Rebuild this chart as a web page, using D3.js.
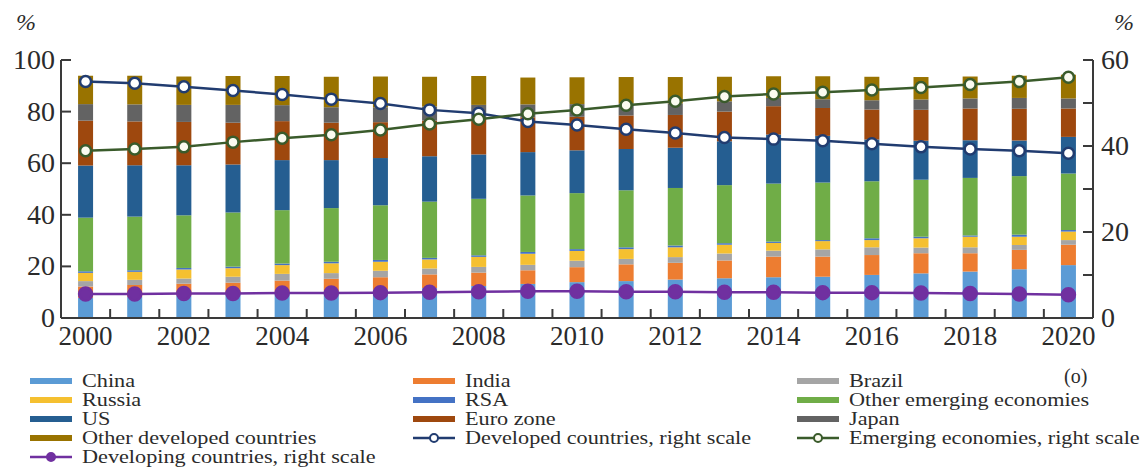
<!DOCTYPE html>
<html>
<head>
<meta charset="utf-8">
<script src="https://cdn.jsdelivr.net/npm/d3@7"></script>
<style>
  body { margin: 0; background: #fff; }
  svg text { font-family: "Liberation Serif", "DejaVu Serif", serif; fill: #2b2b2b; }
</style>
</head>
<body>
<svg id="chart" width="1143" height="470"></svg>
<script>
// years on the x axis
var years = d3.range(2000, 2021)

// shares in world GDP, % (stacked bars, left scale)
var china      = [7.8, 8.2, 8.7, 9.2, 9.8, 10.4, 11.0, 11.6, 12.4, 13.2, 13.9, 14.3, 14.9, 15.4, 15.8, 16.0, 16.7, 17.3, 18.0, 18.9, 20.5]
var india      = [4.4, 4.6, 4.6, 4.5, 4.7, 4.8, 4.8, 5.3, 5.2, 5.3, 5.8, 6.5, 6.5, 6.9, 8.0, 7.8, 7.7, 7.8, 7.1, 7.5, 7.9]
var brazil     = [2.1, 2.0, 2.0, 2.3, 2.6, 2.2, 2.5, 2.3, 2.2, 2.1, 2.5, 2.1, 2.2, 2.7, 2.3, 2.8, 3.0, 2.2, 2.3, 1.9, 1.8]
var russia     = [3.2, 3.1, 3.5, 3.3, 3.4, 3.8, 3.5, 3.5, 3.9, 4.3, 3.8, 3.8, 3.8, 3.4, 3.0, 3.2, 2.8, 3.6, 4.1, 3.2, 3.3]
var rsa        = [0.6, 0.6, 0.6, 0.6, 0.6, 0.6, 0.7, 0.6, 0.6, 0.7, 0.7, 0.7, 0.7, 0.6, 0.5, 0.4, 0.7, 0.6, 0.5, 0.8, 0.6]
var otherEm    = [20.8, 20.8, 20.4, 21.0, 20.7, 20.8, 21.2, 21.8, 21.9, 21.9, 21.7, 22.1, 22.3, 22.5, 22.5, 22.3, 22.1, 22.1, 22.3, 22.7, 21.9]
var us         = [20.2, 19.9, 19.4, 18.6, 19.4, 18.6, 18.3, 17.6, 17.2, 16.8, 16.6, 16.0, 15.6, 17.0, 19.0, 18.1, 16.2, 15.1, 14.6, 13.8, 14.2]
var euroZone   = [17.4, 17.0, 16.8, 16.2, 15.1, 14.5, 13.9, 13.8, 14.0, 13.5, 13.0, 13.0, 12.7, 11.5, 11.0, 10.8, 11.6, 12.0, 12.3, 12.3, 11.0]
var japan      = [6.4, 6.6, 6.6, 6.9, 6.2, 6.0, 5.8, 5.5, 5.2, 5.0, 4.9, 4.6, 4.5, 4.0, 3.2, 3.4, 3.6, 4.0, 3.9, 4.2, 3.9]
var otherDev   = [11.0, 11.1, 11.0, 11.2, 11.3, 11.8, 11.9, 11.5, 11.2, 10.4, 10.4, 10.3, 10.2, 9.5, 8.4, 8.9, 9.1, 8.7, 8.5, 8.6, 9.2]

// group shares, % (lines, right scale)
var developed  = [55.0, 54.6, 53.8, 52.9, 52.0, 50.9, 49.9, 48.4, 47.6, 45.7, 44.9, 43.9, 43.0, 42.0, 41.6, 41.2, 40.5, 39.8, 39.3, 38.9, 38.3]
var emerging   = [38.9, 39.3, 39.8, 40.9, 41.8, 42.6, 43.7, 45.1, 46.2, 47.5, 48.4, 49.5, 50.4, 51.5, 52.1, 52.5, 53.0, 53.6, 54.3, 55.0, 56.0]
var developing = [5.6, 5.6, 5.7, 5.7, 5.8, 5.8, 5.9, 6.0, 6.1, 6.2, 6.2, 6.1, 6.1, 6.0, 6.0, 5.9, 5.9, 5.8, 5.7, 5.6, 5.4]

var leftTicks = [0, 20, 40, 60, 80, 100]
var rightTicks = [0, 10, 20, 30, 40, 50, 60]
var rightLabels = [0, 20, 40, 60]

var barSeries = [
  {key: 'China', values: china, color: '#5b9bd5'},
  {key: 'India', values: india, color: '#ed7d31'},
  {key: 'Brazil', values: brazil, color: '#a5a5a5'},
  {key: 'Russia', values: russia, color: '#f5c030'},
  {key: 'RSA', values: rsa, color: '#4472c4'},
  {key: 'Other emerging economies', values: otherEm, color: '#70ad47'},
  {key: 'US', values: us, color: '#255e91'},
  {key: 'Euro zone', values: euroZone, color: '#9e480e'},
  {key: 'Japan', values: japan, color: '#636363'},
  {key: 'Other developed countries', values: otherDev, color: '#997300'}
]
var lineSeries = [
  {key: 'Developed countries, right scale', values: developed, color: '#213c70', fill: '#fff', r: 5.5},
  {key: 'Emerging economies, right scale', values: emerging, color: '#3a5b2b', fill: '#fbfbf0', r: 5.5},
  {key: 'Developing countries, right scale', values: developing, color: '#7030a0', fill: '#7030a0', r: 6.5}
]

var svg = d3.select('#chart')
// plot box ("top" is taken by window, so keep these prefixed)
var plotLeft = 61, plotRight = 1093, plotTop = 60, plotBottom = 318
var axisColor = '#3a3a3a'

var x = d3.scaleBand().domain(years).range([plotLeft, plotRight])
var yL = d3.scaleLinear().domain([0, 100]).range([plotBottom, plotTop])
var yR = d3.scaleLinear().domain([0, 60]).range([plotBottom, plotTop])
var barWidth = 15
var cx = function(yr) { return x(yr) + x.bandwidth() / 2 }

// stack the bars
var rows = years.map(function(yr, i) {
  var r = {year: yr}
  barSeries.forEach(function(s) { r[s.key] = s.values[i] })
  return r
})
var stacked = d3.stack().keys(barSeries.map(function(s) { return s.key }))(rows)

svg.append('g').selectAll('g')
  .data(stacked)
  .enter().append('g')
    .attr('fill', function(d, i) { return barSeries[i].color })
  .selectAll('rect')
  .data(function(d) { return d })
  .enter().append('rect')
    .attr('x', function(d) { return cx(d.data.year) - barWidth / 2 })
    .attr('width', barWidth)
    .attr('y', function(d) { return yL(d[1]) })
    .attr('height', function(d) { return yL(d[0]) - yL(d[1]) })

// axes
var axes = svg.append('g').attr('stroke', axisColor).attr('stroke-width', 2)
axes.append('line').attr('x1', plotLeft).attr('x2', plotLeft).attr('y1', plotTop).attr('y2', plotBottom)
axes.append('line').attr('x1', plotRight).attr('x2', plotRight).attr('y1', plotTop).attr('y2', plotBottom)
axes.append('line').attr('x1', plotLeft).attr('x2', plotRight).attr('y1', plotBottom).attr('y2', plotBottom)
axes.selectAll('.lt').data(leftTicks).enter().append('line')
  .attr('x1', plotLeft).attr('x2', plotLeft + 10)
  .attr('y1', function(d) { return yL(d) }).attr('y2', function(d) { return yL(d) })
axes.selectAll('.rt').data(rightTicks).enter().append('line')
  .attr('x1', plotRight - 10).attr('x2', plotRight)
  .attr('y1', function(d) { return yR(d) }).attr('y2', function(d) { return yR(d) })
// x ticks sit between the years
axes.selectAll('.xt').data(years.slice(1)).enter().append('line')
  .attr('x1', function(d) { return x(d) }).attr('x2', function(d) { return x(d) })
  .attr('y1', plotBottom).attr('y2', plotBottom - 9)

svg.selectAll('.ll').data(leftTicks).enter().append('text')
  .attr('x', plotLeft - 6).attr('y', function(d) { return yL(d) + 9 })
  .attr('text-anchor', 'end').style('font-size', '28px')
  .text(function(d) { return d })
svg.selectAll('.rl').data(rightLabels).enter().append('text')
  .attr('x', plotRight + 8).attr('y', function(d) { return yR(d) + 9 })
  .style('font-size', '28px')
  .text(function(d) { return d })
svg.selectAll('.xl').data(years.filter(function(d) { return d % 2 == 0 })).enter().append('text')
  .attr('x', function(d) { return cx(d) }).attr('y', plotBottom + 27)
  .attr('text-anchor', 'middle').style('font-size', '27px')
  .text(function(d) { return d })
svg.append('text').attr('x', 16).attr('y', 30).style('font-size', '24px').style('font-style', 'italic').text('%')
svg.append('text').attr('x', 1114).attr('y', 30).style('font-size', '24px').style('font-style', 'italic').text('%')

// lines with markers
var line = d3.line()
  .x(function(d, i) { return cx(years[i]) })
  .y(function(d) { return yR(d) })
lineSeries.forEach(function(s) {
  var g = svg.append('g')
  g.append('path').datum(s.values)
    .attr('d', line).attr('fill', 'none')
    .attr('stroke', s.color).attr('stroke-width', 2.5)
  g.selectAll('circle').data(s.values).enter().append('circle')
    .attr('cx', function(d, i) { return cx(years[i]) })
    .attr('cy', function(d) { return yR(d) })
    .attr('r', s.r)
    .attr('fill', s.fill).attr('stroke', s.color).attr('stroke-width', 2.5)
})

// legend, read row by row across three columns
var legendItems = barSeries.map(function(s) { return {key: s.key, color: s.color, type: 'bar'} })
  .concat(lineSeries.map(function(s) { return {key: s.key, color: s.color, fill: s.fill, type: 'line'} }))
var colX = [30, 413, 797]
var rowY = [381, 400, 419, 438, 457]
var legend = svg.append('g')
legendItems.forEach(function(d, i) {
  var lx = colX[i % 3], ly = rowY[Math.floor(i / 3)]
  var item = legend.append('g').attr('transform', 'translate(' + lx + ',' + ly + ')')
  if (d.type == 'bar') {
    item.append('rect').attr('x', 0).attr('y', -3).attr('width', 42).attr('height', 6).attr('fill', d.color)
  } else {
    item.append('line').attr('x1', 0).attr('x2', 42).attr('stroke', d.color).attr('stroke-width', 2.5)
    item.append('circle').attr('cx', 21).attr('r', 4).attr('fill', d.fill).attr('stroke', d.color).attr('stroke-width', 2)
  }
  // the scanned legend text is a little wider than the font
  item.append('text').attr('transform', 'translate(52,6) scale(1.17,1)')
    .style('font-size', '19px').text(d.key)
})
svg.append('text').attr('x', 1064).attr('y', 383).style('font-size', '20px').text('(o)')
</script>
</body>
</html>
